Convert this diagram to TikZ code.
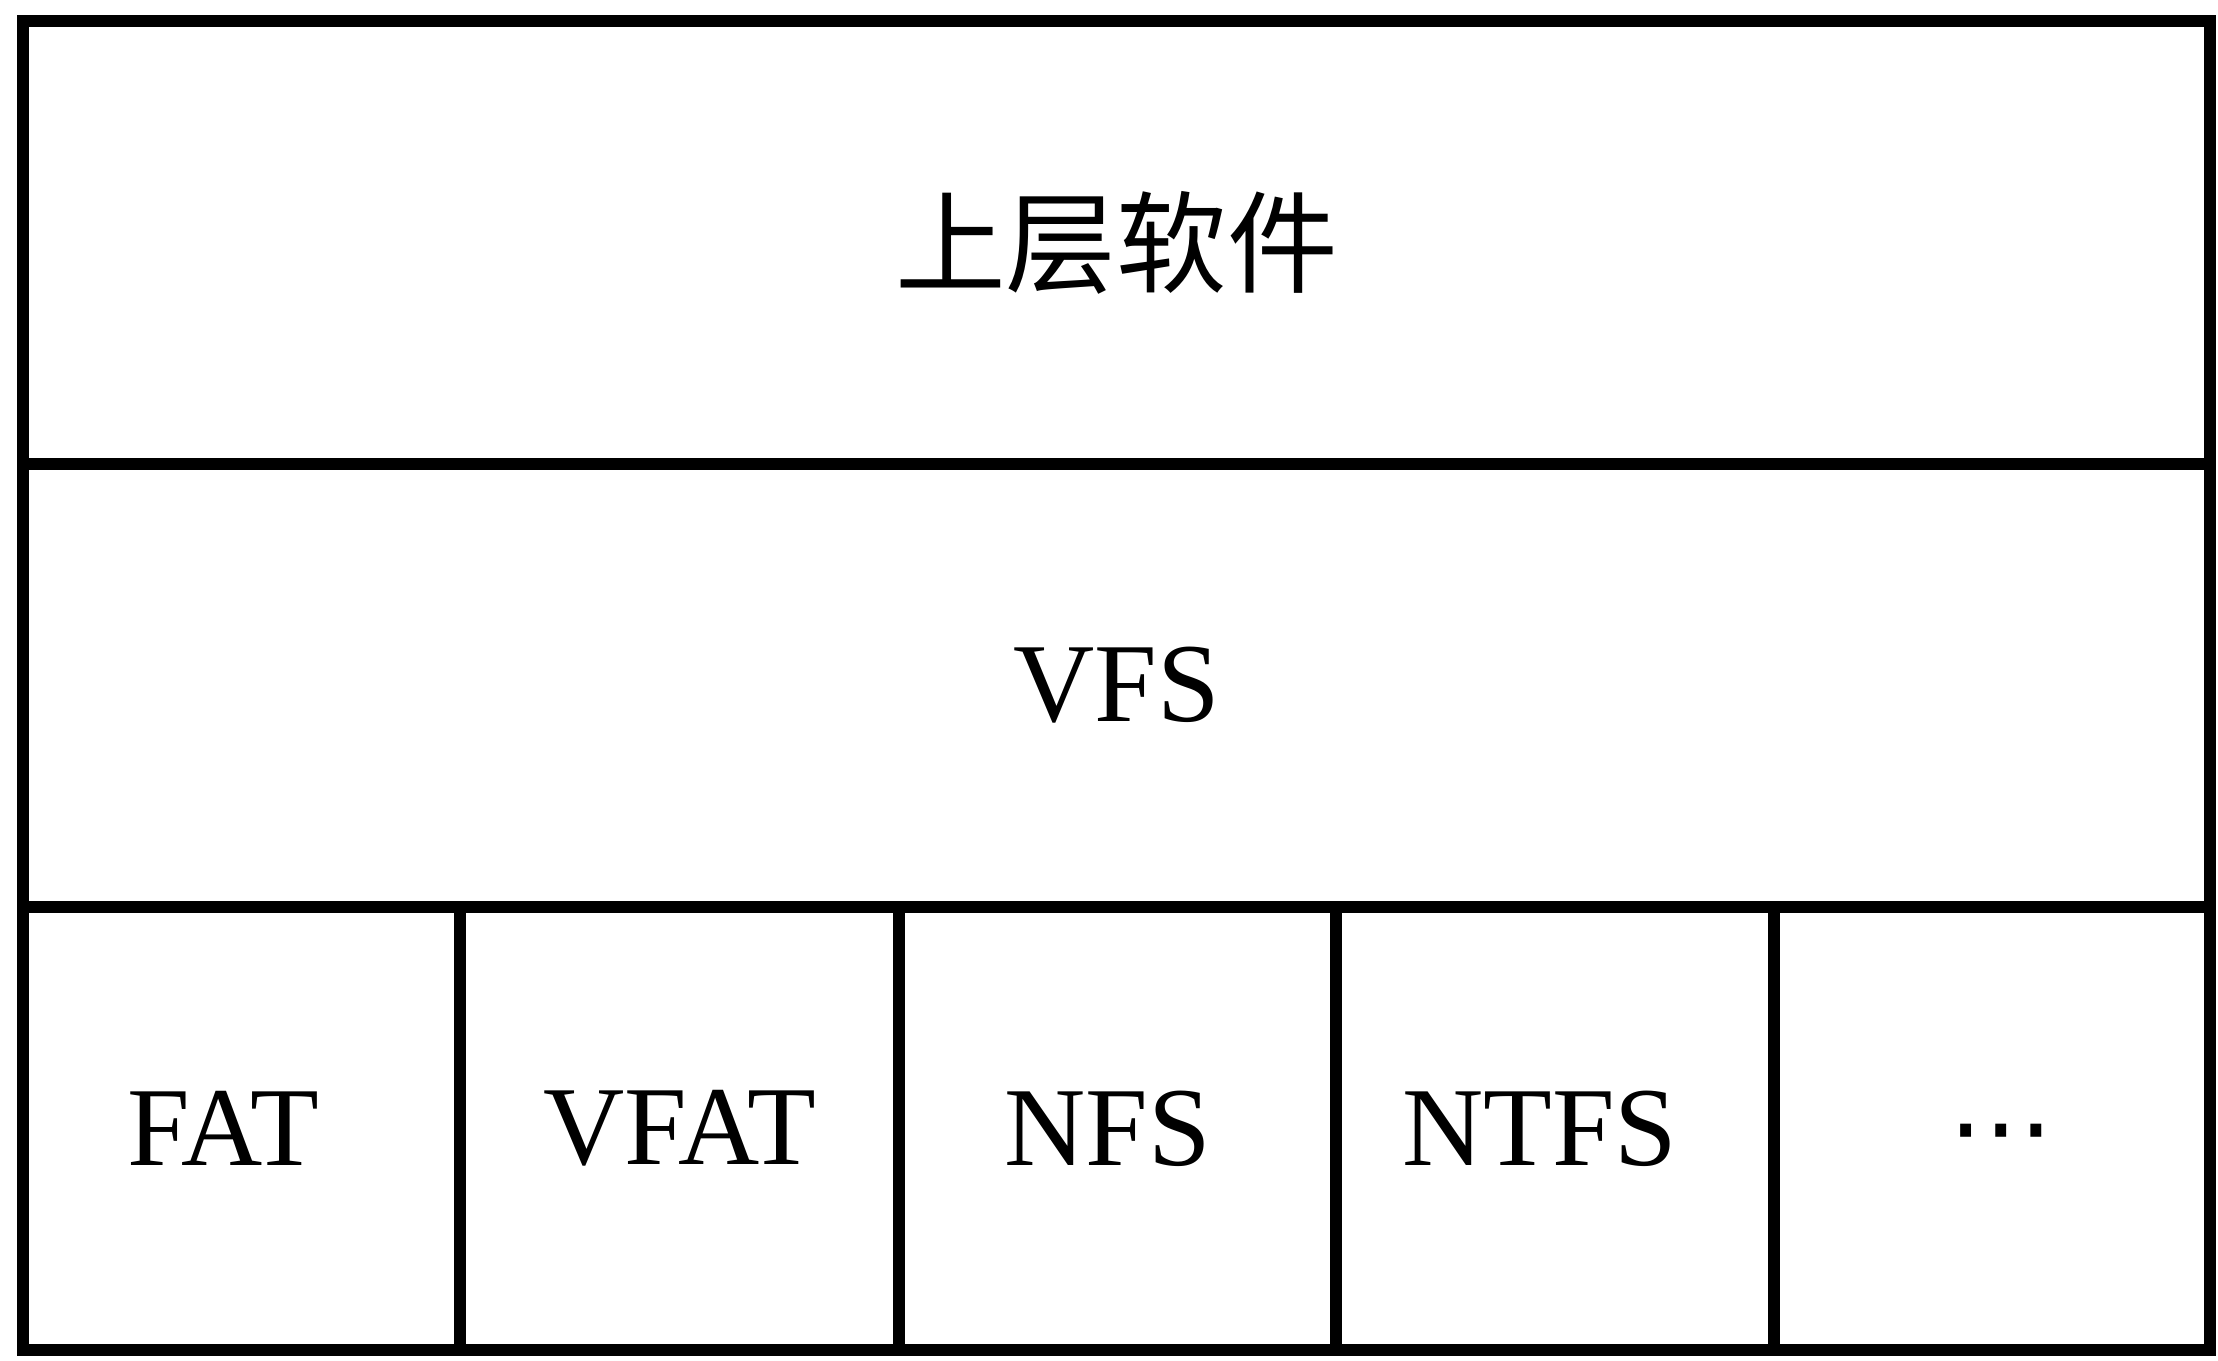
\documentclass[tikz,border=0pt]{standalone}
\usepackage{fontspec}
\setmainfont{Liberation Serif}
\newfontfamily\cjk{Noto Sans CJK SC}
\newfontfamily\dvsans{DejaVu Sans}
\tikzset{
  cell/.style={draw=black, line width=3.4pt, rectangle, inner sep=0pt, minimum height=4.43cm,
    font=\fontsize{32}{36}\selectfont},
}
\begin{document}
\begin{tikzpicture}
\useasboundingbox (0,0) rectangle (22.18,13.60);
% rows: y 13.39 / 8.96 / 4.53 / 0.10 ; x 0.23 .. 22.10
\node[cell, minimum width=21.87cm] (top) at (11.165,11.175) {\cjk\fontsize{31.5}{34}\selectfont 上层软件};
\node[cell, minimum width=21.87cm] (vfs) at (11.165,6.745) {VFS};
\node[cell, minimum width=4.37cm] (fat) at (2.415,2.315) {\hspace*{-0.36cm}FAT};
\node[cell, minimum width=4.39cm] (vfat) at (6.795,2.315) {VFAT};
\node[cell, minimum width=4.37cm] (nfs) at (11.175,2.315) {\hspace*{-0.2cm}NFS};
\node[cell, minimum width=4.38cm] (ntfs) at (15.550,2.315) {\hspace*{-0.3cm}NTFS};
\node[cell, minimum width=4.36cm] (etc) at (19.920,2.315) {\hspace*{0.18cm}\raisebox{-0.155cm}[\height][\depth]{\dvsans\fontsize{30}{34}\selectfont ⋯}};
\end{tikzpicture}
\end{document}
